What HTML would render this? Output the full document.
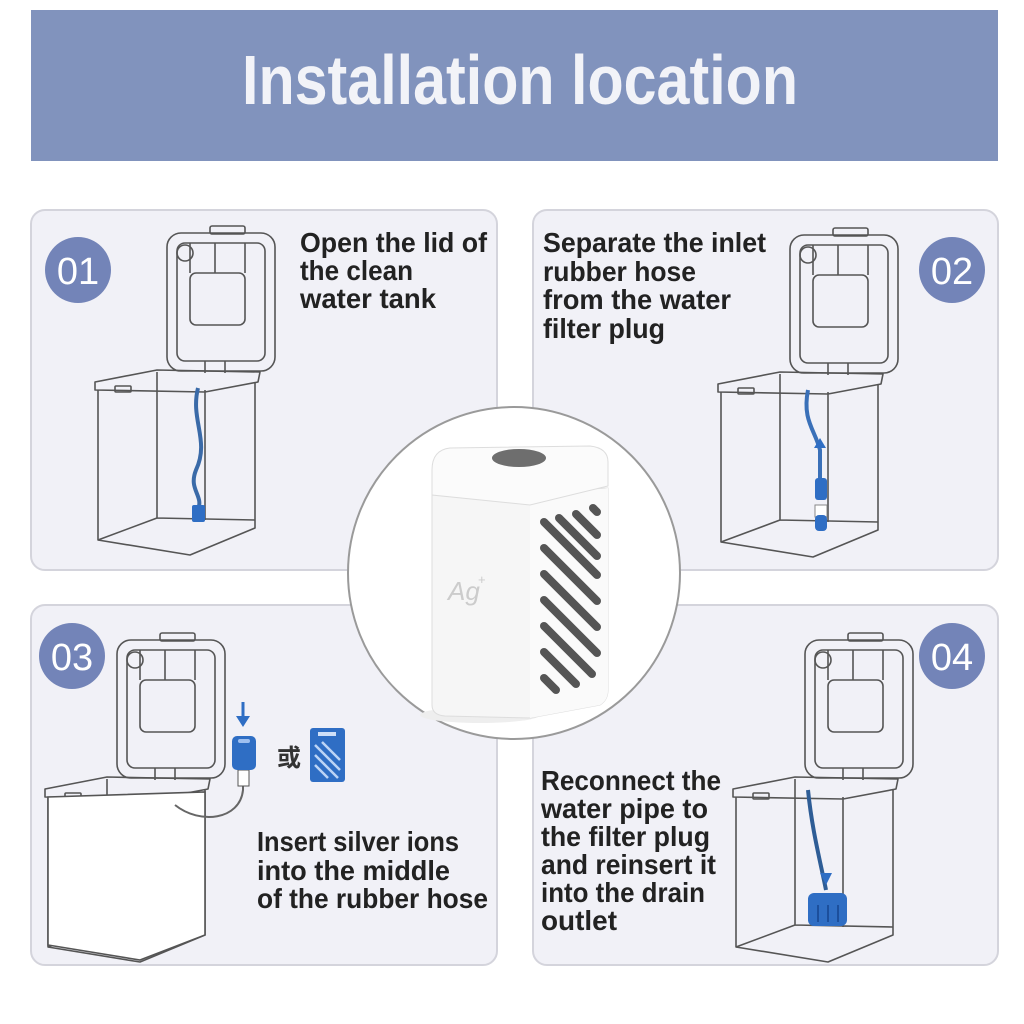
<!DOCTYPE html>
<html><head><meta charset="utf-8"><style>
html,body{margin:0;padding:0;background:#fff;}
svg{display:block}
.t{font-family:"Liberation Sans",sans-serif;font-weight:bold;fill:#222;font-size:28px;}
</style></head><body>
<svg width="1024" height="1024" viewBox="0 0 1024 1024" xmlns="http://www.w3.org/2000/svg">
<defs>
<g id="tank" fill="none" stroke="#555" stroke-width="1.6" stroke-linejoin="round">
  <rect x="72" y="-145" width="108" height="138" rx="14"/>
  <rect x="82" y="-135" width="88" height="118" rx="8"/>
  <rect x="95" y="-105" width="55" height="52" rx="6"/>
  <path d="M95,-105 L95,-135 M120,-105 L120,-135 M150,-105 L150,-135 M110,-17 L110,-5 M130,-17 L130,-5"/>
  <circle cx="90" cy="-125" r="8"/>
  <rect x="115" y="-152" width="35" height="8" rx="2"/>
  <path d="M0,4 L62,-8 L165,-6 L163,4 L110,14 L0,12 Z"/>
  <path d="M3,12 L3,162 L95,177 L160,150 L160,4"/>
  <path d="M62,-6 L62,140 L3,162 M62,140 L160,142 M110,12 L110,142"/>
  <rect x="20" y="8" width="16" height="6" rx="1"/>
</g>
</defs>
<rect x="31" y="10" width="967" height="151" fill="#8193bd"/>
<text x="520" y="104" text-anchor="middle" font-family="Liberation Sans,sans-serif" font-weight="bold" font-size="70" fill="#f2f3f8" textLength="556" lengthAdjust="spacingAndGlyphs">Installation location</text>

<g fill="#f1f1f7" stroke="#d4d4dc" stroke-width="2">
<rect x="31" y="210" width="466" height="360" rx="14"/>
<rect x="533" y="210" width="465" height="360" rx="14"/>
<rect x="31" y="605" width="466" height="360" rx="14"/>
<rect x="533" y="605" width="465" height="360" rx="14"/>
</g>

<!-- panel 1 -->
<use href="#tank" x="95" y="378"/>
<path d="M198,388 C190,420 210,440 196,470 C188,490 204,495 198,510" stroke="#3a6aa8" stroke-width="4" fill="none"/>
<rect x="192" y="505" width="13" height="17" rx="2" fill="#2f6ec4"/>
<!-- panel 2 -->
<use href="#tank" x="718" y="380"/>
<path d="M808,390 C802,420 815,430 820,450 L820,480" stroke="#3a70b8" stroke-width="4" fill="none"/>
<path d="M820,438 L814,448 L826,448 Z" fill="#2f6ec4"/>
<rect x="815" y="478" width="12" height="22" rx="3" fill="#2f6ec4"/>
<rect x="815" y="505" width="12" height="12" fill="#fff" stroke="#888"/>
<rect x="815" y="515" width="12" height="16" rx="4" fill="#2f6ec4"/>
<!-- panel 3 -->
<use href="#tank" x="45" y="785"/>
<path d="M48,797 L48,945 L140,960 L205,935 L205,792 Z" fill="#fff" stroke="#555" stroke-width="1.6"/>
<path d="M175,805 C200,825 240,820 243,790 L243,775" stroke="#666" stroke-width="2" fill="none"/>
<rect x="238" y="770" width="11" height="16" fill="#fff" stroke="#555"/>
<path d="M243,702 L243,718" stroke="#2f6ec4" stroke-width="3"/>
<path d="M236,716 L250,716 L243,727 Z" fill="#2f6ec4"/>
<rect x="232" y="736" width="24" height="34" rx="5" fill="#2f6ec4"/>
<rect x="238" y="739" width="12" height="4" rx="2" fill="#9fc0f0"/>
<text x="277" y="766" font-family="Noto Sans CJK SC,sans-serif" font-weight="bold" font-size="24" fill="#333">或</text>
<rect x="310" y="728" width="35" height="54" rx="3" fill="#2f6ec4"/>
<rect x="318" y="732" width="18" height="4" fill="#cfe0f8"/>
<path d="M315,745 L340,770 M315,755 L338,778 M322,742 L340,760 M315,765 L328,778" stroke="#bcd4f5" stroke-width="2.5"/>
<!-- panel 4 -->
<use href="#tank" x="733" y="785"/>
<path d="M808,790 C812,830 820,860 826,890" stroke="#2e5d96" stroke-width="4" fill="none"/>
<path d="M820,873 L832,873 L826,885 Z" fill="#2f6ec4"/>
<rect x="808" y="893" width="39" height="33" rx="6" fill="#2f6ec4"/>
<path d="M818,905 L818,922 M828,905 L828,922 M838,905 L838,922" stroke="#1c4f9c" stroke-width="2"/>

<!-- number badges -->
<g fill="#7384b8">
<circle cx="78" cy="270" r="33"/><circle cx="952" cy="270" r="33"/>
<circle cx="72" cy="656" r="33"/><circle cx="952" cy="656" r="33"/>
</g>
<g font-family="Liberation Sans,sans-serif" font-size="38" fill="#fff" text-anchor="middle">
<text x="78" y="284">01</text><text x="952" y="284">02</text>
<text x="72" y="670">03</text><text x="952" y="670">04</text>
</g>

<!-- texts -->
<text class="t" x="300" y="252" textLength="187" lengthAdjust="spacingAndGlyphs">Open the lid of</text>
<text class="t" x="300" y="280" textLength="113" lengthAdjust="spacingAndGlyphs">the clean</text>
<text class="t" x="300" y="308" textLength="136" lengthAdjust="spacingAndGlyphs">water tank</text>

<text class="t" x="543" y="252" textLength="223" lengthAdjust="spacingAndGlyphs">Separate the inlet</text>
<text class="t" x="543" y="281" textLength="153" lengthAdjust="spacingAndGlyphs">rubber hose</text>
<text class="t" x="543" y="309" textLength="188" lengthAdjust="spacingAndGlyphs">from the water</text>
<text class="t" x="543" y="338" textLength="122" lengthAdjust="spacingAndGlyphs">filter plug</text>

<text class="t" x="257" y="851" textLength="202" lengthAdjust="spacingAndGlyphs">Insert silver ions</text>
<text class="t" x="257" y="880" textLength="193" lengthAdjust="spacingAndGlyphs">into the middle</text>
<text class="t" x="257" y="908" textLength="231" lengthAdjust="spacingAndGlyphs">of the rubber hose</text>

<text class="t" x="541" y="790" textLength="180" lengthAdjust="spacingAndGlyphs">Reconnect the</text>
<text class="t" x="541" y="818" textLength="167" lengthAdjust="spacingAndGlyphs">water pipe to</text>
<text class="t" x="541" y="846" textLength="169" lengthAdjust="spacingAndGlyphs">the filter plug</text>
<text class="t" x="541" y="874" textLength="175" lengthAdjust="spacingAndGlyphs">and reinsert it</text>
<text class="t" x="541" y="902" textLength="164" lengthAdjust="spacingAndGlyphs">into the drain</text>
<text class="t" x="541" y="930" textLength="76" lengthAdjust="spacingAndGlyphs">outlet</text>

<!-- center circle -->
<circle cx="514" cy="573" r="166" fill="#fff" stroke="#9a9a9a" stroke-width="2"/>
<ellipse cx="480" cy="715" rx="60" ry="8" fill="#eee"/>
<path d="M432,495 L432,705 Q432,715 445,716 L530,718 L600,705 Q608,700 608,690 L608,488 Z" fill="#f6f6f6" stroke="#ddd"/>
<path d="M530,500 L530,718 L600,705 Q608,700 608,690 L608,488 Z" fill="#fafafa"/>
<path d="M432,470 Q432,450 450,448 L590,446 Q608,448 608,462 L608,486 L530,505 L432,495 Z" fill="#fbfbfb" stroke="#ddd"/>
<ellipse cx="519" cy="458" rx="27" ry="9" fill="#6e6e6e"/>
<g stroke="#555" stroke-width="8" stroke-linecap="round">
<path d="M544,522 L597,575"/><path d="M559,518 L597,556"/><path d="M576,514 L597,535"/><path d="M593,508 L597,512"/>
<path d="M544,548 L597,601"/><path d="M544,574 L597,627"/><path d="M544,600 L597,653"/><path d="M544,626 L592,674"/><path d="M544,652 L576,684"/><path d="M544,678 L556,690"/>
</g>
<text x="448" y="600" font-family="Liberation Sans,sans-serif" font-size="26" fill="#ccc" font-style="italic">Ag</text>
<text x="478" y="584" font-family="Liberation Sans,sans-serif" font-size="13" fill="#ccc">+</text>
</svg>
</body></html>
